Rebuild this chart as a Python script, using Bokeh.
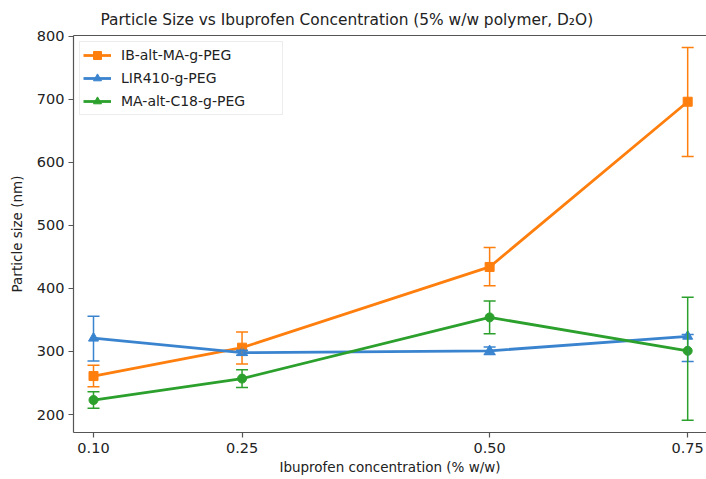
from bokeh.plotting import figure
from bokeh.models import (ColumnDataSource, Whisker, TeeHead, LinearAxis, Legend,
                          LegendItem, FixedTicker, Range1d)
from bokeh.embed import file_html
from bokeh.resources import INLINE

# ---- data ----
conc_labels = ["0.10", "0.25", "0.50", "0.75"]
x_pos = [0.10, 0.25, 0.50, 0.70]          # positions of the points along the axis
y_ticks = [200, 300, 400, 500, 600, 700, 800]

ib_mean = [261, 306, 434, 696]
ib_err_lo = [17, 26, 30, 87]
ib_err_hi = [17, 25, 31, 86]

lir_mean = [321, 298, 301, 324]
lir_err_lo = [36, 4, 6, 40]
lir_err_hi = [35, 4, 6, 3]

ma_mean = [223, 257, 354, 301]
ma_err_lo = [13, 14, 26, 110]
ma_err_hi = [13, 14, 26, 85]

series = [
    ("IB-alt-MA-g-PEG", ib_mean, ib_err_lo, ib_err_hi, "#ff7f0e", "square", 9, "square"),
    ("LIR410-g-PEG", lir_mean, lir_err_lo, lir_err_hi, "#3a84cf", "triangle", 10, "triangle"),
    ("MA-alt-C18-g-PEG", ma_mean, ma_err_lo, ma_err_hi, "#2ca02c", "circle", 9, "triangle"),
]

FONT = "DejaVu Sans"
AX = "#555555"
TXT = "#222222"

p = figure(width=706, height=479, output_backend="svg", toolbar_location=None,
           x_range=Range1d(0.0798, 0.719), y_range=Range1d(171.5, 801),
           min_border_left=73, min_border_right=0, min_border_top=35, min_border_bottom=47)
p.outline_line_color = None
p.grid.visible = False
p.background_fill_color = "white"
p.border_fill_color = "white"

xax = p.below[0]
yax = p.left[0]

p.title.text = "Particle Size vs Ibuprofen Concentration (5% w/w polymer, D\u2082O)"
p.title.text_font = FONT
p.title.text_font_size = "15.4px"
p.title.text_font_style = "normal"
p.title.text_color = TXT
p.title.align = "left"
p.title.offset = 27
p.title.standoff = 13

# top frame line
top_axis = LinearAxis(ticker=FixedTicker(ticks=[]), major_label_text_font_size="0px",
                      axis_line_color=AX, axis_line_width=1.2, major_tick_out=0,
                      minor_tick_out=0, major_label_standoff=0)
p.add_layout(top_axis, "above")

for ax in (xax, yax):
    ax.axis_line_color = AX
    ax.axis_line_width = 1.2
    ax.major_tick_line_color = AX
    ax.major_tick_line_width = 1.2
    ax.major_tick_out = 5
    ax.major_tick_in = 0
    ax.minor_tick_out = 0
    ax.minor_tick_in = 0
    ax.major_label_text_font = FONT
    ax.major_label_text_font_size = "14.5px"
    ax.major_label_text_color = TXT
    ax.axis_label_text_font = FONT
    ax.axis_label_text_font_size = "13.5px"
    ax.axis_label_text_font_style = "normal"
    ax.axis_label_text_color = TXT

xax.ticker = FixedTicker(ticks=x_pos)
xax.major_label_overrides = {x: lab for x, lab in zip(x_pos, conc_labels)}
xax.axis_label = "Ibuprofen concentration (% w/w)"
xax.major_label_standoff = 5
xax.axis_label_standoff = 3
yax.ticker = FixedTicker(ticks=y_ticks)
yax.axis_label = "Particle size (nm)"
yax.major_label_standoff = 4
yax.axis_label_standoff = 9

items = []
for name, mean, elo, ehi, col, mk, sz, legmk in series:
    src = ColumnDataSource(dict(x=x_pos, y=mean,
                                lo=[m - e for m, e in zip(mean, elo)],
                                hi=[m + e for m, e in zip(mean, ehi)]))
    ln = p.line("x", "y", source=src, line_color=col, line_width=2.8)
    w = Whisker(source=src, base="x", lower="lo", upper="hi", dimension="height",
                line_color=col, line_width=1.5, level="glyph",
                upper_head=TeeHead(size=12, line_color=col, line_width=1.5),
                lower_head=TeeHead(size=12, line_color=col, line_width=1.5))
    p.add_layout(w)
    p.scatter("x", "y", source=src, marker=mk, size=sz, fill_color=col, line_color=col)
    leg = p.scatter(x=[float("nan")], y=[float("nan")], marker=legmk, size=10,
                    fill_color=col, line_color=col)
    items.append(LegendItem(label=name, renderers=[ln, leg]))

legend = Legend(items=items, location="top_left", margin=6, padding=3, spacing=3,
                glyph_width=28, glyph_height=20, label_standoff=10, label_width=158,
                label_text_font=FONT, label_text_font_size="14px",
                label_text_color=TXT,
                border_line_color="#d9d9d9", border_line_width=1,
                background_fill_color="white", background_fill_alpha=0.85)
p.add_layout(legend)

open("out.html", "w").write(file_html(p, INLINE))
